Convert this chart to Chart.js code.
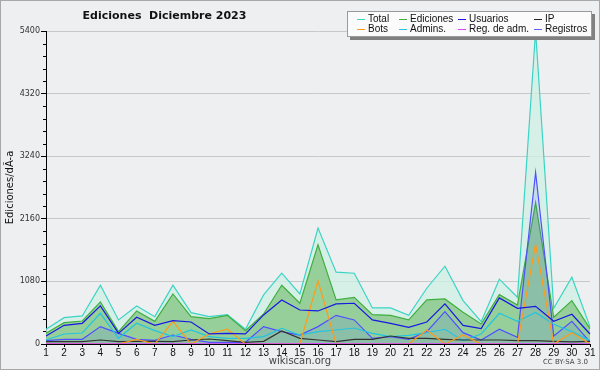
<!DOCTYPE html>
<html>
<head>
<meta charset="utf-8">
<script src="https://cdn.jsdelivr.net/npm/chart.js@4"></script>
<style>
  html, body { margin: 0; padding: 0; background: #eeeff0; }
  #wrap { position: relative; width: 600px; height: 370px; font-family: 'DejaVu Sans', sans-serif; }
  #frame { position: absolute; left: 0; top: 0; width: 598px; height: 368px; border: 1px solid #a8a8a8; pointer-events: none; }
  #title { position: absolute; left: 0; width: 329px; top: 9px; text-align: center; font-weight: bold; font-size: 11px; color: #111; white-space: pre; }
  #legend { position: absolute; left: 347px; top: 11px; width: 243px; height: 24px; background: #fbfbfb; border: 1px solid #9a9a9a; box-shadow: 3px 3px 0 #808080; }
  #legend .it { position: absolute; font-family: 'Liberation Sans', sans-serif; font-size: 10px; color: #111; line-height: 10px; white-space: nowrap; }
  #legend .sw { position: absolute; height: 1px; }
  #site { position: absolute; left: 0; width: 600px; top: 355px; text-align: center; font-size: 10px; color: #444; }
  #lic { position: absolute; right: 12px; top: 358px; font-size: 7px; color: #444; }
</style>
</head>
<body>
<div id="wrap">
  <canvas id="chart" width="600" height="370"></canvas>
  <div id="title">Ediciones  Diciembre 2023</div>
  <div id="legend"></div>
  <div id="site">wikiscan.org</div>
  <div id="lic">CC BY-SA 3.0</div>
  <div id="frame"></div>
</div>
<script>
const days = ['1','2','3','4','5','6','7','8','9','10','11','12','13','14','15','16','17','18','19','20','21','22','23','24','25','26','27','28','29','30','31'];
const yTicks = [0, 1080, 2160, 3240, 4320, 5400];

const total = [254,455,484,1014,415,657,472,1014,541,472,507,254,847,1221,864,1999,1239,1221,622,622,495,962,1342,749,386,1118,806,5400,616,1152,300];
const ediciones = [184,369,397,726,213,570,390,864,472,438,495,230,518,1014,703,1711,760,806,507,495,415,760,777,547,346,852,674,2440,461,749,265];
const usuarios = [138,322,357,657,184,461,322,403,380,173,184,173,501,760,587,570,691,703,415,357,288,380,691,322,265,795,616,650,392,513,173];
const ip = [40,40,40,69,40,46,46,40,69,86,58,29,46,225,98,69,40,81,81,138,98,98,81,69,69,69,58,58,46,35,46];
const bots = [0,0,0,0,0,81,0,392,0,173,254,0,0,0,0,1090,0,0,0,0,0,242,0,155,0,0,0,1723,0,196,0];
const admins = [69,173,190,530,98,357,230,127,242,127,98,98,127,271,155,213,242,276,184,127,150,196,254,58,173,530,392,545,340,213,58];
const regAdm = [2,2,2,4,2,2,2,2,2,2,2,2,2,4,2,6,2,2,2,2,2,2,4,2,2,2,2,4,2,2,2];
const registros = [58,81,81,300,184,81,63,155,81,29,29,29,300,213,155,300,495,415,98,127,81,213,559,196,69,254,115,2960,138,392,35];

// legend layout: [name, color, swatch x, row]
const legendItems = [
  ['Total', '#3ad4c4', 9, 0], ['Ediciones', '#3fae3f', 51, 0], ['Usuarios', '#1818e0', 110, 0], ['IP', '#222222', 186, 0],
  ['Bots', '#ff9a1a', 9, 1], ['Admins.', '#22c4e0', 51, 1], ['Reg. de adm.', '#e040ff', 110, 1], ['Registros', '#6060ff', 186, 1]
];
const legend = document.getElementById('legend');
legendItems.forEach(([name, color, x, row]) => {
  const sw = document.createElement('div');
  sw.className = 'sw';
  sw.style.left = x + 'px';
  sw.style.width = '8px';
  sw.style.top = (7 + row * 10) + 'px';
  sw.style.background = color;
  legend.appendChild(sw);
  const t = document.createElement('div');
  t.className = 'it';
  t.style.left = (x + 11) + 'px';
  t.style.top = (2 + row * 10) + 'px';
  t.textContent = name;
  legend.appendChild(t);
});

function line(label, data, color, order, fill, width) {
  return {
    label, data, order,
    borderColor: color,
    backgroundColor: fill || 'transparent',
    fill: fill ? 'origin' : false,
    borderWidth: width || 1.2,
    pointRadius: 0,
    tension: 0
  };
}

// minor ticks on the y axis
const minorTicks = {
  id: 'minorTicks',
  afterDraw(chart) {
    const ctx = chart.ctx, y = chart.scales.y, left = chart.chartArea.left;
    ctx.save();
    ctx.strokeStyle = '#000';
    ctx.lineWidth = 1;
    for (let v = 0; v <= 5400; v += 216) {
      if (v % 1080 === 0) continue;
      const py = Math.round(y.getPixelForValue(v)) + 0.5;
      ctx.beginPath();
      ctx.moveTo(left - 3, py);
      ctx.lineTo(left, py);
      ctx.stroke();
    }
    ctx.restore();
  }
};

const ctx = document.getElementById('chart').getContext('2d');
new Chart(ctx, {
  type: 'line',
  data: {
    labels: days,
    datasets: [
      line('Total', total, '#3ad4c4', 10, 'rgba(205,240,228,0.75)'),
      line('Ediciones', ediciones, '#3fae3f', 9, 'rgba(128,196,128,0.75)'),
      line('Registros', registros, '#5050ff', 8, 'rgba(80,80,255,0.13)'),
      line('Admins.', admins, '#22c4e0', 5),
      line('IP', ip, '#333333', 4),
      line('Bots', bots, '#ff9a1a', 3),
      line('Usuarios', usuarios, '#1818e0', 2),
      line('Reg. de adm.', regAdm, '#e040ff', 1)
    ]
  },
  options: {
    responsive: false,
    animation: false,
    layout: { padding: { top: 31, right: 10, left: 4, bottom: 0 } },
    plugins: {
      legend: { display: false },
      tooltip: { enabled: false }
    },
    scales: {
      x: {
        grid: { drawOnChartArea: false, drawTicks: true, tickLength: 3, tickColor: '#000' },
        border: { color: '#000' },
        ticks: { font: { family: 'Liberation Sans', size: 10 }, color: '#111', padding: 0, maxRotation: 0, autoSkip: false },
        afterFit: s => { s.height = 26; }
      },
      y: {
        min: 0,
        max: 5400,
        afterBuildTicks: s => { s.ticks = yTicks.map(v => ({ value: v })); },
        ticks: { font: { family: 'DejaVu Sans', size: 8 }, color: '#333', padding: 1, callback: v => String(v) },
        grid: { color: '#c8c8c8', tickColor: '#000', tickLength: 5 },
        border: { color: '#000' },
        title: { display: true, text: 'Ediciones/dÃ-a', font: { family: 'DejaVu Sans', size: 10 }, color: '#111', padding: 0 },
        afterFit: s => { s.width = 42; }
      }
    }
  },
  plugins: [minorTicks]
});
</script>
</body>
</html>
